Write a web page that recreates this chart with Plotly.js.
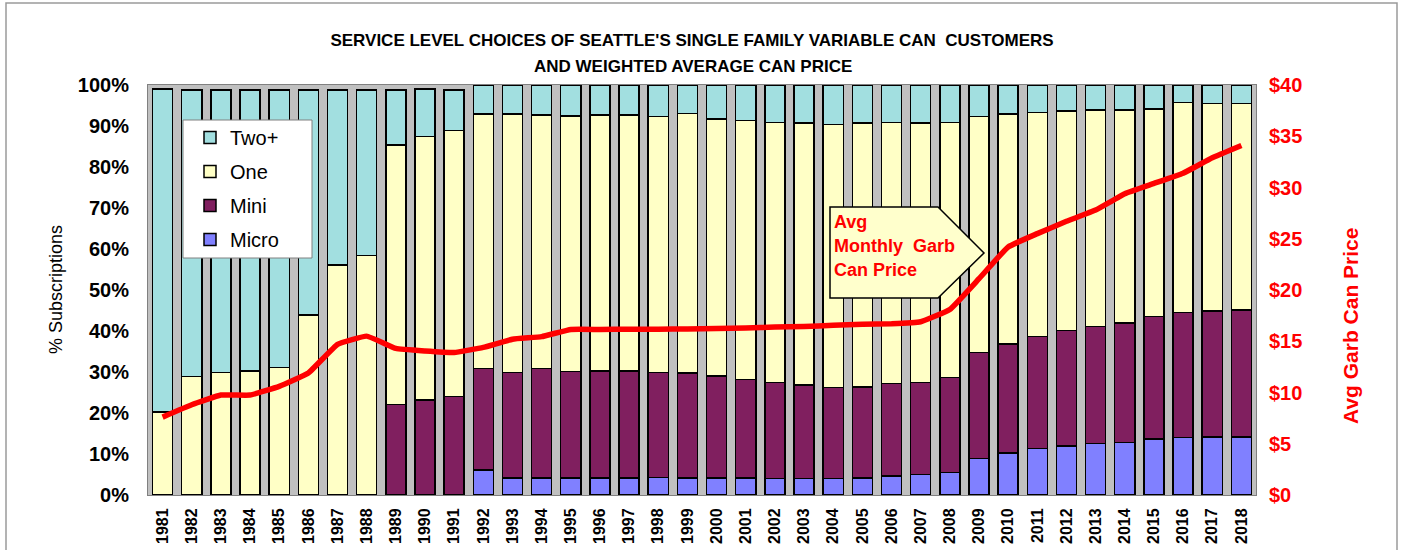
<!DOCTYPE html>
<html>
<head>
<meta charset="utf-8">
<script src="https://cdn.plot.ly/plotly-3.0.1.min.js"></script>
<style>
html,body{margin:0;padding:0;background:#fff;}
#chart{width:1401px;height:550px;}
</style>
</head>
<body>
<div id="chart"></div>
<script>
const years = ['1981','1982','1983','1984','1985','1986','1987','1988','1989','1990','1991','1992','1993','1994','1995','1996','1997','1998','1999','2000','2001','2002','2003','2004','2005','2006','2007','2008','2009','2010','2011','2012','2013','2014','2015','2016','2017','2018'];
const micro = [0,0,0,0,0,0,0,0,0,0,0,6.1,4.1,4.1,4.1,4.1,4.1,4.3,4.1,4.1,4.1,4.0,4.0,4.0,4.1,4.6,5.0,5.5,8.9,10.2,11.4,12.0,12.6,12.8,13.6,14.0,14.2,14.2];
const mini = [0,0,0,0,0,0,0,0,22.1,23.2,24.0,24.8,25.8,26.8,26.0,26.1,26.1,25.6,25.6,24.9,24.1,23.5,22.8,22.2,22.3,22.6,22.5,23.1,25.9,26.6,27.2,28.1,28.5,29.1,29.9,30.5,30.7,30.9];
const one = [20.3,28.9,29.9,30.3,31.1,43.9,56.1,58.4,63.3,64.2,64.9,62.0,63.0,61.8,62.3,62.5,62.5,62.4,63.4,62.7,63.1,63.4,63.9,64.2,64.3,63.6,63.2,62.3,57.5,56.1,54.7,53.6,52.8,52.0,50.6,51.2,50.6,50.4];
const two = [78.7,69.9,68.9,68.5,67.7,54.9,42.7,40.4,13.4,11.6,9.9,7.1,7.1,7.3,7.6,7.3,7.3,7.7,6.9,8.3,8.7,9.1,9.3,9.6,9.3,9.2,9.3,9.1,7.7,7.1,6.7,6.3,6.1,6.1,5.9,4.3,4.5,4.5];
const price = [7.6,8.8,9.75,9.75,10.6,11.9,14.7,15.5,14.3,14.05,13.9,14.4,15.2,15.45,16.15,16.15,16.17,16.18,16.2,16.25,16.3,16.38,16.45,16.55,16.65,16.7,16.9,18.1,21.1,24.2,25.5,26.7,27.8,29.4,30.4,31.4,32.9,34.1];

const seriesNames = ['Micro','Mini','One','Two+'];
const seriesColors = ['#8080FF','#801F5F','#FFFFC6','#A2DFE0'];
const seriesRanks = [4,3,2,1];
const seriesData = [micro, mini, one, two];

const FONT = 'Liberation Sans, Arial, sans-serif';

const traces = seriesData.map((d,i)=>({
  type:'bar', x:years, y:d, name:seriesNames[i], legendgroup:seriesNames[i], legendrank:seriesRanks[i],
  marker:{color:seriesColors[i], line:{color:'#000', width:1.5}},
  hoverinfo:'skip'
}));
traces.push({
  type:'scatter', mode:'lines', x:years, y:price, yaxis:'y2', name:'Avg Garb Can Price',
  showlegend:false, line:{color:'#FF0000', width:5.5, shape:'spline', smoothing:0.3},
  hoverinfo:'skip'
});

const W=1401, H=550, L=148, R=1256, T=85, B=495;
const px = X => (X-L)/(R-L);
const py = Y => (B-Y)/(B-T);

const layout = {
  width:W, height:H,
  margin:{l:L, r:W-R, t:T, b:H-B},
  paper_bgcolor:'#fff', plot_bgcolor:'#C0C0C0',
  barmode:'stack', bargap:0.31,
  showlegend:true,
  font:{family:FONT, color:'#000'},
  title:{text:"SERVICE LEVEL CHOICES OF SEATTLE'S SINGLE FAMILY VARIABLE CAN  CUSTOMERS",
    font:{family:FONT, size:17, weight:'bold', color:'#000'},
    x:692/W, xanchor:'center', y:1-40/H, yanchor:'middle'},
  xaxis:{type:'category', tickangle:-90, ticks:'', tickfont:{size:16, weight:'bold', color:'#000'},
    showline:true, linecolor:'#808080', linewidth:1, mirror:true, showgrid:false, ticklabelstandoff:6, fixedrange:true},
  yaxis:{range:[0,100], dtick:10, ticksuffix:'%', ticks:'', showgrid:false, zeroline:false,
    tickfont:{size:20, weight:'bold', color:'#000'}, ticklabelstandoff:14,
    showline:true, linecolor:'#808080', linewidth:1, mirror:true, fixedrange:true},
  yaxis2:{range:[0,40], dtick:5, tickprefix:'$', overlaying:'y', side:'right', ticks:'', showgrid:false, zeroline:false,
    tickfont:{size:20, weight:'bold', color:'#FF0000'}, ticklabelstandoff:12, showline:false, fixedrange:true},
  legend:{x:px(190), y:py(118), xanchor:'left', yanchor:'top', bgcolor:'rgba(0,0,0,0)', borderwidth:0,
    font:{size:20, color:'#000', family:FONT}, traceorder:'grouped', tracegroupgap:5},
  shapes:[
    {type:'rect', xref:'paper', yref:'paper', x0:px(6), x1:px(1397), y0:py(600), y1:py(3),
      line:{color:'#9A9A9A', width:1.5}, fillcolor:'rgba(0,0,0,0)', layer:'below'},
    {type:'rect', xref:'paper', yref:'paper', x0:px(183), x1:px(312), y0:py(258), y1:py(120),
      line:{color:'#808080', width:1}, fillcolor:'#FFFFFF', layer:'above'},
    {type:'path', xref:'paper', yref:'paper',
      path:`M ${px(830)},${py(207)} L ${px(938)},${py(207)} L ${px(984)},${py(253)} L ${px(938)},${py(298)} L ${px(830)},${py(298)} Z`,
      line:{color:'#000', width:1.5}, fillcolor:'#FFFFCC', layer:'above'}
  ],
  annotations:[
    {xref:'paper', yref:'paper', x:px(693), y:py(67), text:'AND WEIGHTED AVERAGE CAN PRICE', showarrow:false,
      font:{size:17, color:'#000', family:FONT, weight:'bold'}, xanchor:'center', yanchor:'middle'},
    {xref:'paper', yref:'paper', x:px(56), y:0.5, text:'% Subscriptions', textangle:-90, showarrow:false,
      font:{size:18, color:'#000', family:FONT}, xanchor:'center', yanchor:'middle'},
    {xref:'paper', yref:'paper', x:px(1350), y:py(326), text:'Avg Garb Can Price', textangle:-90, showarrow:false,
      font:{size:21, color:'#FF0000', family:FONT, weight:'bold'}, xanchor:'center', yanchor:'middle'},
    {xref:'paper', yref:'paper', x:px(832), y:py(222), text:'Avg', showarrow:false, xanchor:'left', yanchor:'middle',
      font:{size:18, color:'#FF0000', family:FONT, weight:'bold'}},
    {xref:'paper', yref:'paper', x:px(832), y:py(246), text:'Monthly  Garb', showarrow:false, xanchor:'left', yanchor:'middle',
      font:{size:18, color:'#FF0000', family:FONT, weight:'bold'}},
    {xref:'paper', yref:'paper', x:px(832), y:py(270), text:'Can Price', showarrow:false, xanchor:'left', yanchor:'middle',
      font:{size:18, color:'#FF0000', family:FONT, weight:'bold'}}
  ]
};

Plotly.newPlot('chart', traces, layout, {displayModeBar:false, staticPlot:true});
</script>
</body>
</html>
